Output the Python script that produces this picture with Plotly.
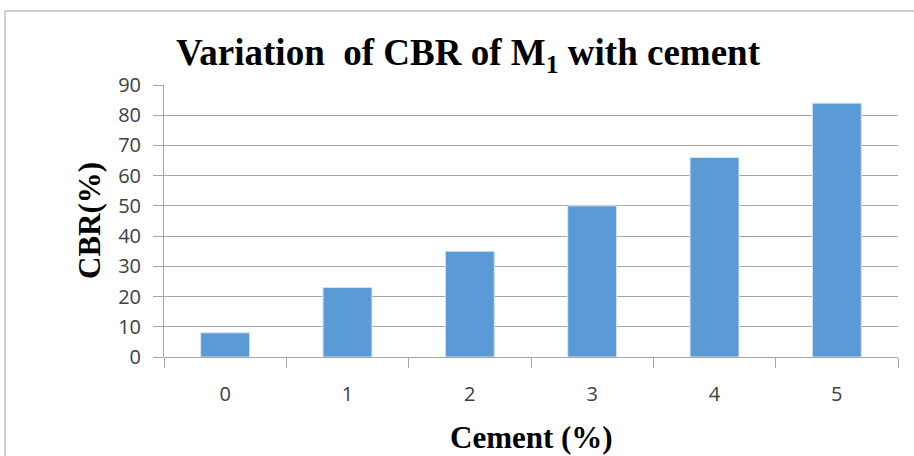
import plotly.graph_objects as go

categories = ["0", "1", "2", "3", "4", "5"]
cbr_values = [8, 23, 35, 50, 66, 84]
y_ticks = [0, 10, 20, 30, 40, 50, 60, 70, 80, 90]

W, H = 914, 456
L, R, T, B = 164, 16, 85, 99
pw, ph = W - L - R, H - T - B

def px_x(x):
    return (x - L) / pw

def px_y(y):
    return (H - B - y) / ph

fig = go.Figure()
fig.add_trace(go.Bar(
    x=categories, y=cbr_values,
    marker=dict(color="#5B9BD5", line=dict(color="#D6E4F3", width=1)),
    width=0.4,
))

border = dict(color="#A0A0A0", width=1)
fig.update_layout(
    width=W, height=H,
    margin=dict(l=L, r=R, t=T, b=B, autoexpand=False),
    paper_bgcolor="white", plot_bgcolor="white",
    showlegend=False,
    title=dict(
        text="<b>Variation\u00a0 of CBR of M<sub>1</sub> with cement</b>",
        font=dict(family="Liberation Serif", size=37, color="black"),
        x=px_x(468), xref="paper", xanchor="center",
        y=1 - 52 / H, yref="container", yanchor="middle",
    ),
    xaxis=dict(
        type="category", automargin=False,
        showgrid=False,
        showline=False,
        ticks="outside", tickson="boundaries", ticklen=10, tickcolor="#A6A6A6", tickwidth=1,
        ticklabelstandoff=23,
        tickfont=dict(family="Open Sans", size=20, color="#404040"),
    ),
    yaxis=dict(
        range=[0, 90], automargin=False,
        tickvals=y_ticks,
        showgrid=True, gridcolor="#A6A6A6", gridwidth=1,
        zeroline=True, zerolinecolor="#A6A6A6", zerolinewidth=1,
        showline=True, linecolor="#A6A6A6", linewidth=1,
        ticks="outside", ticklen=10, tickcolor="#A6A6A6",
        ticklabelstandoff=8,
        tickfont=dict(family="Open Sans", size=20, color="#404040"),
    ),
    annotations=[
        dict(text="<b>Cement (%)</b>", xref="paper", yref="paper",
             x=px_x(531), y=px_y(437), xanchor="center", yanchor="middle",
             showarrow=False, font=dict(family="Liberation Serif", size=31, color="black")),
        dict(text="<b>CBR(%)</b>", xref="paper", yref="paper",
             x=px_x(89), y=px_y(221), xanchor="center", yanchor="middle", textangle=-90,
             showarrow=False, font=dict(family="Liberation Serif", size=31, color="black")),
    ],
    shapes=[
        dict(type="line", xref="paper", yref="paper",
             x0=px_x(5), x1=px_x(914), y0=px_y(11), y1=px_y(11), line=border, layer="below"),
        dict(type="line", xref="paper", yref="paper",
             x0=px_x(5), x1=px_x(5), y0=px_y(11), y1=px_y(456), line=border, layer="below"),
    ],
)

fig.write_html(
    "out.html",
    config={"displayModeBar": False},
    post_script="document.body.style.margin='0';document.body.style.overflow='hidden';",
)
